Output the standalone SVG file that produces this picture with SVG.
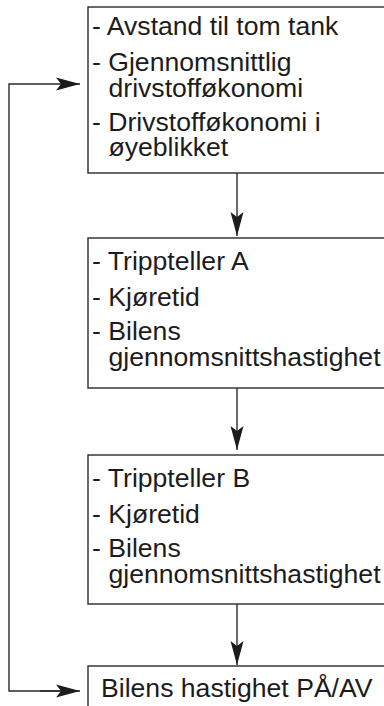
<svg xmlns="http://www.w3.org/2000/svg" width="384" height="706" viewBox="0 0 384 706">
  <style>
    .box { fill: #ffffff; stroke: #2a2a2a; stroke-width: 1.4; }
    .t { font-family: "Liberation Sans", Arial, sans-serif; font-size: 26.6px; fill: #1c1c1c; }
    .conn { fill: none; stroke: #2a2a2a; stroke-width: 1.4; }
  </style>
  <defs>
    <marker id="arr" viewBox="0 0 24 14" refX="24" refY="7" markerWidth="24" markerHeight="14" markerUnits="userSpaceOnUse" orient="auto">
      <path d="M0,0.5 L24,7 L0,13.5 L5,7 Z" fill="#1c1c1c"/>
    </marker>
  </defs>
  <rect width="384" height="706" fill="#ffffff"/>

  <g id="connectors">
    <line class="conn" x1="237" y1="173" x2="237" y2="236" marker-end="url(#arr)"/>
    <line class="conn" x1="237" y1="388" x2="237" y2="450" marker-end="url(#arr)"/>
    <line class="conn" x1="237" y1="604" x2="237" y2="665" marker-end="url(#arr)"/>
    <polyline class="conn" points="60,691 9,691 9,84 80,84" marker-end="url(#arr)"/>
    <line class="conn" x1="40" y1="691" x2="80" y2="691" marker-end="url(#arr)"/>
  </g>

  <g id="node1">
    <rect class="box" x="88" y="7" width="320" height="166"/>
    <text class="t" x="92" y="34.5">- Avstand til tom tank</text>
    <text class="t" x="92" y="70.5">- Gjennomsnittlig</text>
    <text class="t" x="108.5" y="96.5">drivstofføkonomi</text>
    <text class="t" x="92" y="131">- Drivstofføkonomi i</text>
    <text class="t" x="108.5" y="156">øyeblikket</text>
  </g>

  <g id="node2">
    <rect class="box" x="88" y="238" width="320" height="150"/>
    <text class="t" x="92" y="270">- Trippteller A</text>
    <text class="t" x="92" y="306">- Kjøretid</text>
    <text class="t" x="92" y="340">- Bilens</text>
    <text class="t" x="108.5" y="366">gjennomsnittshastighet</text>
  </g>

  <g id="node3">
    <rect class="box" x="88" y="455" width="320" height="149"/>
    <text class="t" x="92" y="487">- Trippteller B</text>
    <text class="t" x="92" y="523">- Kjøretid</text>
    <text class="t" x="92" y="557">- Bilens</text>
    <text class="t" x="108.5" y="583">gjennomsnittshastighet</text>
  </g>

  <g id="node4">
    <rect class="box" x="88" y="666" width="320" height="60"/>
    <text class="t" x="101" y="697">Bilens hastighet PÅ/AV</text>
  </g>
</svg>
